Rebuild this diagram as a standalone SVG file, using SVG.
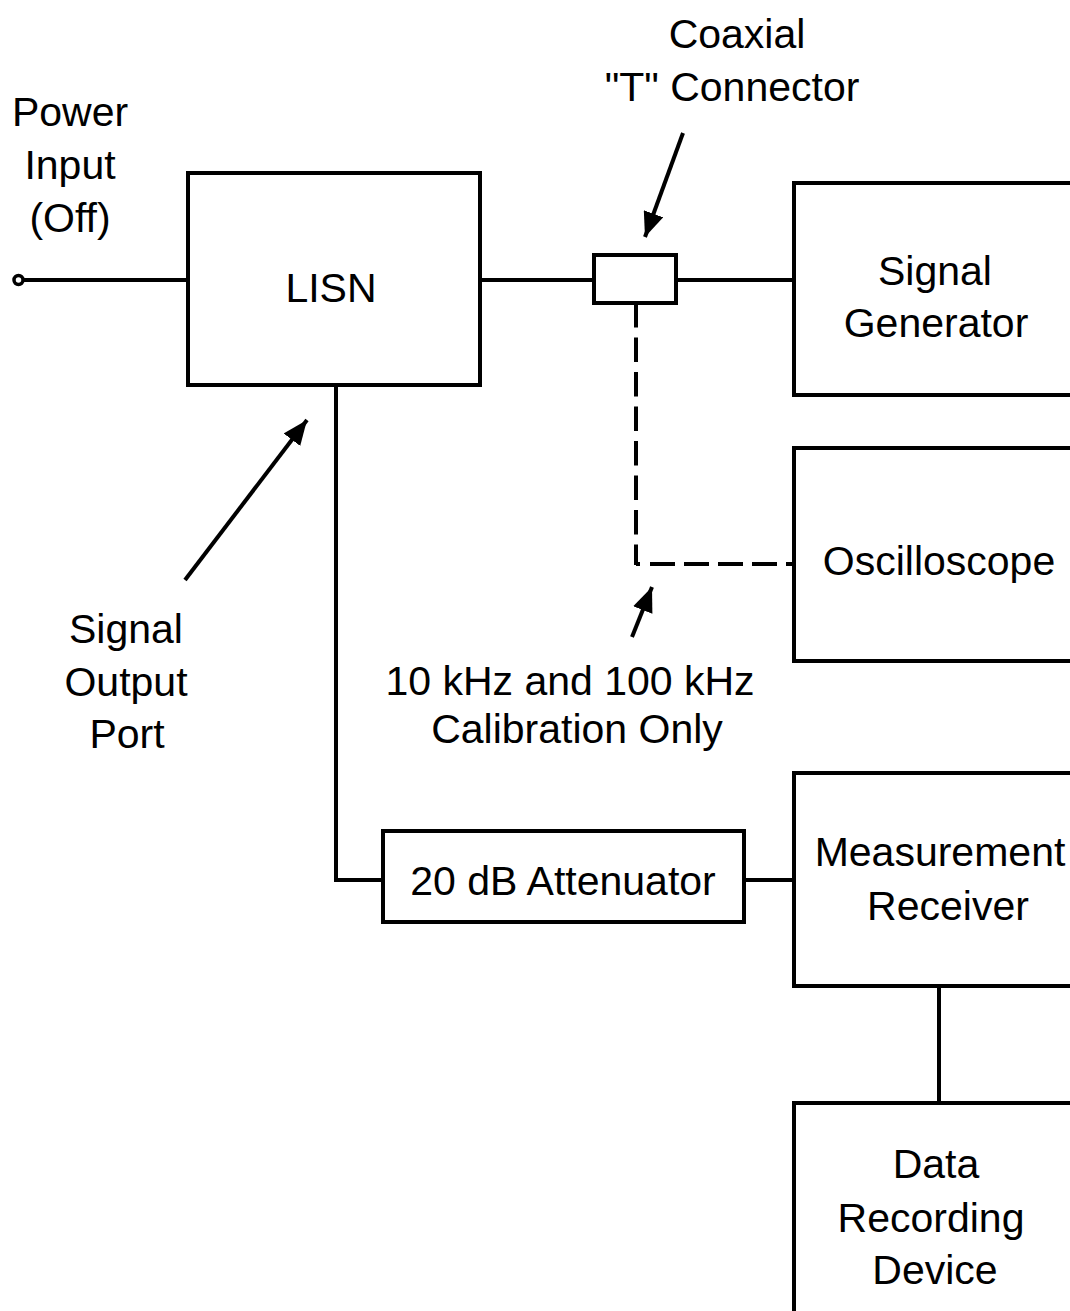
<svg xmlns="http://www.w3.org/2000/svg" width="1070" height="1311" viewBox="0 0 1070 1311">
<style>
.box{fill:#fff;stroke:#000;stroke-width:4}
.ln{fill:none;stroke:#000;stroke-width:4}
.dv{fill:none;stroke:#000;stroke-width:4;stroke-dasharray:24.5 10}
.dh{fill:none;stroke:#000;stroke-width:4;stroke-dasharray:25 9}
.t{font-family:"Liberation Sans",Arial,sans-serif;font-size:41px;fill:#000;text-anchor:middle}
</style>
<defs>
<marker id="ah" viewBox="0 0 12 10" refX="12" refY="5" markerWidth="6.2" markerHeight="5.2" markerUnits="strokeWidth" orient="auto">
<path d="M0,0 L12,5 L0,10 z" fill="#000"/>
</marker>
</defs>
<rect width="1070" height="1311" fill="#fff"/>
<g id="connectors">
<circle cx="18.5" cy="280" r="4.5" fill="#fff" stroke="#000" stroke-width="3.5"/>
<line class="ln" x1="23" y1="280" x2="188" y2="280"/>
<line class="ln" x1="480" y1="280" x2="594" y2="280"/>
<line class="ln" x1="676" y1="280" x2="794" y2="280"/>
<path class="dv" d="M636,303 V565"/>
<path class="ln" d="M636,564 H640" stroke-width="2"/>
<path class="dh" d="M650,564 H794"/>
<path class="ln" d="M336,385 V880 H383"/>
<line class="ln" x1="744" y1="880" x2="794" y2="880"/>
<line class="ln" x1="939" y1="986" x2="939" y2="1103"/>
<line class="ln" x1="683" y1="133" x2="645" y2="237" marker-end="url(#ah)"/>
<line class="ln" x1="185" y1="580" x2="307" y2="420" marker-end="url(#ah)"/>
<line class="ln" x1="632" y1="637" x2="652" y2="587" marker-end="url(#ah)"/>
</g>
<g id="power-input"><text class="t" x="70" y="126">Power</text><text class="t" x="70" y="179">Input</text><text class="t" x="70" y="232">(Off)</text></g>
<g id="lisn"><rect class="box" x="188" y="173" width="292" height="212"/><text class="t" x="331" y="302">LISN</text></g>
<g id="t-connector"><rect class="box" x="594" y="255" width="82" height="48"/><text class="t" x="737" y="48">Coaxial</text><text class="t" x="732" y="101">"T" Connector</text></g>
<g id="signal-generator"><rect class="box" x="794" y="183" width="300" height="212"/><text class="t" x="935" y="285">Signal</text><text class="t" x="936" y="337">Generator</text></g>
<g id="oscilloscope"><rect class="box" x="794" y="448" width="300" height="213"/><text class="t" x="939" y="575">Oscilloscope</text></g>
<g id="signal-output-port"><text class="t" x="126" y="643">Signal</text><text class="t" x="126" y="696">Output</text><text class="t" x="127" y="748">Port</text></g>
<g id="calibration-note"><text class="t" x="570" y="695">10 kHz and 100 kHz</text><text class="t" x="577" y="743">Calibration Only</text></g>
<g id="attenuator"><rect class="box" x="383" y="831" width="361" height="91"/><text class="t" x="563" y="895">20 dB Attenuator</text></g>
<g id="measurement-receiver"><rect class="box" x="794" y="773" width="300" height="213"/><text class="t" x="940" y="866">Measurement</text><text class="t" x="948" y="920">Receiver</text></g>
<g id="data-recording-device"><rect class="box" x="794" y="1103" width="300" height="250"/><text class="t" x="936" y="1178">Data</text><text class="t" x="931" y="1232">Recording</text><text class="t" x="935" y="1284">Device</text></g>
</svg>
